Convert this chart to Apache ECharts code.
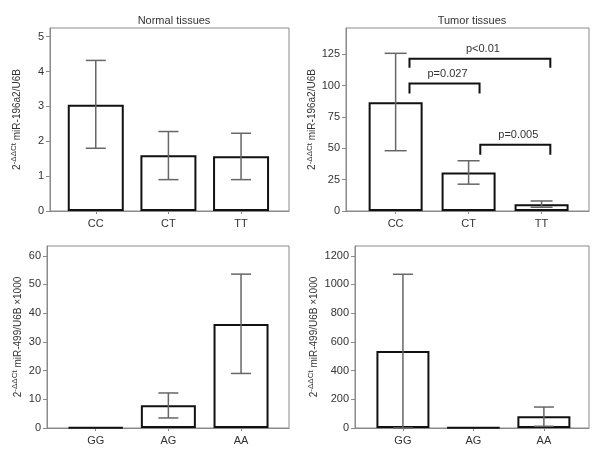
<!DOCTYPE html>
<html>
<head>
<meta charset="utf-8">
<script src="https://cdn.jsdelivr.net/npm/echarts@6/dist/echarts.min.js"></script>
<style>html,body{margin:0;padding:0;background:#fff}#c{width:593px;height:453px}</style>
</head>
<body>
<div id="c"></div>
<script>
// ---- data ----
const catsTop = ['CC', 'CT', 'TT'];
const catsBottom = ['GG', 'AG', 'AA'];

const normal196Mean = [3.05, 1.60, 1.57];
const normal196Low  = [1.80, 0.90, 0.90];
const normal196High = [4.32, 2.28, 2.23];

const tumor196Mean = [86.8, 30.7, 5.4];
const tumor196Low  = [48.1, 21.4, 3.0];
const tumor196High = [125.8, 40.1, 8.0];

const normal499Mean = [0.2, 7.9, 36.2];
const normal499Low  = [null, 3.5, 19.0];
const normal499High = [null, 12.2, 53.6];

const tumor499Mean = [537, 3, 81];
const tumor499Low  = [0, null, 12];
const tumor499High = [1071, null, 146];

const yTicksTopLeft = [0, 1, 2, 3, 4, 5];
const yTicksTopRight = [0, 25, 50, 75, 100, 125];
const yTicksBottomLeft = [0, 10, 20, 30, 40, 50, 60];
const yTicksBottomRight = [0, 200, 400, 600, 800, 1000, 1200];

// significance brackets: [xStart, xEnd, yTop, yDrop, label]
const bracketX1 = [0.19, 0.19, 1.16];
const bracketX2 = [2.12, 1.15, 2.12];
const bracketTop = [121.5, 101.8, 52.9];
const bracketDrop = [114.3, 93.7, 44.9];
const bracketLabels = ['p<0.01', 'p=0.027', 'p=0.005'];

// ---- chart ----
const FONT = 'Liberation Sans, Arial, sans-serif';
const TXT = '#333';
const FRAME = '#8a8a8a';

const grids = [
  {left: 50, right: 304, top: 28, bottom: 242},
  {left: 346, right: 4, top: 28, bottom: 242},
  {left: 47, right: 304, top: 246, bottom: 25},
  {left: 355, right: 4, top: 246, bottom: 25}
];
const xRanges = [[-0.63, 2.66], [-0.68, 2.65], [-0.67, 2.66], [-0.68, 2.64]];
const yMax = [5.25, 146, 63.4, 1268];
const yTicks = [yTicksTopLeft, yTicksTopRight, yTicksBottomLeft, yTicksBottomRight];
const cats = [catsTop, catsTop, catsBottom, catsBottom];
const means = [normal196Mean, tumor196Mean, normal499Mean, tumor499Mean];
const lows = [normal196Low, tumor196Low, normal499Low, tumor499Low];
const highs = [normal196High, tumor196High, normal499High, tumor499High];
const barW = [56, 54, 55, 53];
const capW = [20, 22, 20, 20];
const nameGaps = [28, 27, 24, 36];
const yNames = [
  '{b|2}{s|-ΔΔCt}{b| miR-196a2/U6B}',
  '{b|2}{s|-ΔΔCt}{b| miR-196a2/U6B}',
  '{b|2}{s|-ΔΔCt}{b| miR-499/U6B ×1000}',
  '{b|2}{s|-ΔΔCt}{b| miR-499/U6B ×1000}'
];

const xAxes = [], yAxes = [], series = [];
for (let i = 0; i < 4; i++) {
  const c = cats[i];
  xAxes.push({
    type: 'value', gridIndex: i, min: xRanges[i][0], max: xRanges[i][1],
    axisLine: {show: true, onZero: false, lineStyle: {color: FRAME, width: 1}},
    axisTick: {show: true, customValues: [0, 1, 2], length: 3, lineStyle: {color: FRAME}},
    axisLabel: {customValues: [0, 1, 2], formatter: v => c[Math.round(v)], color: TXT, fontSize: 11, fontFamily: FONT, margin: 7},
    splitLine: {show: false}
  });
  yAxes.push({
    type: 'value', gridIndex: i, min: 0, max: yMax[i],
    name: yNames[i], nameLocation: 'middle', nameGap: nameGaps[i], nameRotate: 90,
    nameTextStyle: {color: TXT, fontFamily: FONT,
      rich: {b: {fontSize: 10, color: TXT, fontFamily: FONT, lineHeight: 12, verticalAlign: 'bottom'},
             s: {fontSize: 8, color: TXT, fontFamily: FONT, lineHeight: 9, verticalAlign: 'top'}}},
    axisLine: {show: true, onZero: false, lineStyle: {color: FRAME, width: 1}},
    axisTick: {show: true, customValues: yTicks[i], length: 4, lineStyle: {color: FRAME}},
    axisLabel: {customValues: yTicks[i], formatter: v => String(v), color: TXT, fontSize: 11, fontFamily: FONT, margin: 6},
    splitLine: {show: false}
  });
  series.push({
    type: 'bar', xAxisIndex: i, yAxisIndex: i, barWidth: barW[i],
    data: means[i].map((v, k) => [k, v]),
    itemStyle: {color: '#fff', borderColor: '#111', borderWidth: 2},
    silent: true, z: 2
  });
  const errData = [];
  means[i].forEach((v, k) => { if (lows[i][k] != null) errData.push([k, lows[i][k], highs[i][k]]); });
  const cw = capW[i];
  series.push({
    type: 'custom', xAxisIndex: i, yAxisIndex: i, z: 3, silent: true,
    data: errData,
    renderItem: function (params, api) {
      const x = api.value(0);
      const pl = api.coord([x, api.value(1)]);
      const ph = api.coord([x, api.value(2)]);
      const st = {stroke: '#666', lineWidth: 1.5};
      return {type: 'group', children: [
        {type: 'line', shape: {x1: pl[0], y1: pl[1], x2: ph[0], y2: ph[1]}, style: st},
        {type: 'line', shape: {x1: ph[0] - cw / 2, y1: ph[1], x2: ph[0] + cw / 2, y2: ph[1]}, style: st},
        {type: 'line', shape: {x1: pl[0] - cw / 2, y1: pl[1], x2: pl[0] + cw / 2, y2: pl[1]}, style: st}
      ]};
    }
  });
}

// brackets on tumor 196a2 panel
series.push({
  type: 'custom', xAxisIndex: 1, yAxisIndex: 1, z: 4, silent: true,
  data: bracketLabels.map((l, k) => [bracketX1[k], bracketX2[k], bracketTop[k], bracketDrop[k]]),
  renderItem: function (params, api) {
    const k = params.dataIndex;
    const a = api.coord([api.value(0), api.value(3)]);
    const b = api.coord([api.value(0), api.value(2)]);
    const c = api.coord([api.value(1), api.value(2)]);
    const d = api.coord([api.value(1), api.value(3)]);
    return {type: 'group', children: [
      {type: 'polyline', shape: {points: [a, b, c, d]}, style: {stroke: '#111', lineWidth: 2, fill: null}},
      {type: 'text', x: (b[0] + c[0]) / 2 + 3, y: b[1] - 4,
        style: {text: bracketLabels[k], fill: TXT, font: '11px ' + FONT, textAlign: 'center', textVerticalAlign: 'bottom'}}
    ]};
  }
});

const chart = echarts.init(document.getElementById('c'), null, {renderer: 'canvas'});
chart.setOption({
  backgroundColor: '#fff',
  animation: false,
  title: [
    {text: 'Normal tissues', left: 169, top: 10, textAlign: 'center', textStyle: {fontSize: 11, fontWeight: 'normal', color: TXT, fontFamily: FONT}},
    {text: 'Tumor tissues', left: 467, top: 10, textAlign: 'center', textStyle: {fontSize: 11, fontWeight: 'normal', color: TXT, fontFamily: FONT}}
  ],
  grid: grids.map(g => Object.assign({show: true, borderColor: FRAME, borderWidth: 1, backgroundColor: 'transparent'}, g)),
  xAxis: xAxes,
  yAxis: yAxes,
  series: series
});
</script>
</body>
</html>
